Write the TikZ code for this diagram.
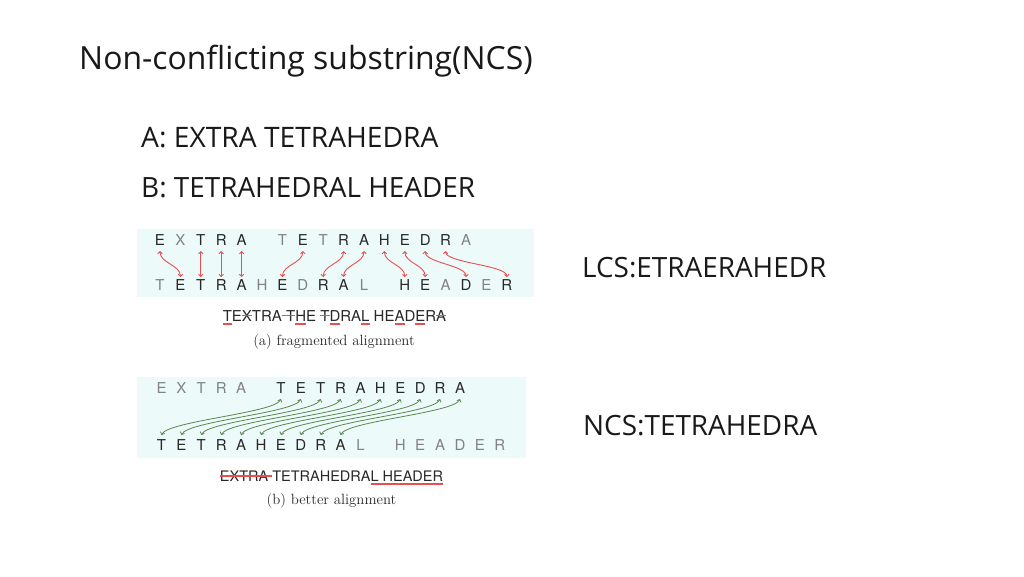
\documentclass[tikz,border=0pt]{standalone}
\usepackage{fontspec}
\usetikzlibrary{arrows.meta}

\newfontfamily\slidefont{Open Sans}
\newfontfamily\heros{TeX Gyre Heros}

\definecolor{panel}{RGB}{237,250,250}
\definecolor{dk}{RGB}{40,40,40}
\definecolor{lt}{RGB}{130,130,130}
\definecolor{lcsred}{RGB}{232,80,80}
\definecolor{ncsgreen}{RGB}{90,135,80}

\newsavebox\markbox
\newcommand\delmark[1]{\sbox\markbox{#1}\usebox\markbox\llap{\color{lcsred}\rule[0.31em]{\wd\markbox}{1.8pt}}}
\newcommand\insmark[1]{\sbox\markbox{#1}\usebox\markbox\llap{\color{lcsred}\rule[-3.6pt]{\wd\markbox}{1.7pt}}}

\begin{document}
\begin{tikzpicture}[x=1pt, y=-1pt, line cap=round, line join=round,
    slide/.style={anchor=base west, inner sep=0pt, text=black!90},
    letter/.style={anchor=base, inner sep=0pt, font=\heros\fontsize{15}{15}\selectfont},
    rowa/.style={letter, outer ysep=6pt},
    rowb/.style={letter, outer ysep=2pt},
    edit/.style={anchor=base, inner sep=0pt, text=dk, font=\heros\fontsize{15}{16}\selectfont},
    caption/.style={anchor=base, inner sep=0pt, text=dk, font=\fontsize{14.8}{16}\selectfont},
    lcsarrow/.style={draw=lcsred, line width=0.9pt, >={Straight Barb[length=2.2pt,width=4.5pt]}, <->},
    ncsarrow/.style={draw=ncsgreen, line width=0.8pt, >={Straight Barb[length=2.2pt,width=4.5pt]}, <->}]

    \useasboundingbox (0,0) rectangle (1024,576);
    \fill[white] (0,0) rectangle (1024,576);

    \node[slide, font=\slidefont\fontsize{31.9}{36}\selectfont] (title) at (79,69) {Non-conflicting substring(NCS)};
    \node[slide, font=\slidefont\fontsize{28.2}{32}\selectfont] (seqa) at (141,147) {A: EXTRA TETRAHEDRA};
    \node[slide, font=\slidefont\fontsize{27.9}{32}\selectfont] (seqb) at (141,197) {B: TETRAHEDRAL HEADER};
    \node[slide, font=\slidefont\fontsize{27.9}{32}\selectfont] (lcs) at (582,277) {LCS:ETRAERAHEDR};
    \node[slide, font=\slidefont\fontsize{27.9}{32}\selectfont] (ncs) at (583,435) {NCS:TETRAHEDRA};

    \fill[panel] (137,229) rectangle (534,297);
    \fill[panel] (137,377) rectangle (526,458);

    \foreach \ch/\col [count=\i from 0] in {E/dk,X/lt,T/dk,R/dk,A/dk,{}/lt,T/lt,E/dk,T/lt,R/dk,A/dk,H/dk,E/dk,D/dk,R/dk,A/lt}
        \node[rowa, text=\col] (fa\i) at ({160+20.4*\i},245) {\ch};
    \foreach \ch/\col [count=\i from 0] in {T/lt,E/dk,T/dk,R/dk,A/dk,H/lt,E/dk,D/lt,R/dk,A/dk,L/lt,{}/lt,H/dk,E/dk,A/lt,D/dk,E/lt,R/dk}
        \node[rowb, text=\col] (fb\i) at ({160+20.4*\i},290) {\ch};

    \draw[lcsarrow] (fa0.south) .. controls +(0,12) and +(0,-12) .. (fb1.north);
    \draw[lcsarrow] (fa2.south) -- (fb2.north);
    \draw[lcsarrow] (fa3.south) -- (fb3.north);
    \draw[lcsarrow] (fa4.south) -- (fb4.north);
    \draw[lcsarrow] (fa7.south) .. controls +(0,12) and +(0,-12) .. (fb6.north);
    \draw[lcsarrow] (fa9.south) .. controls +(0,12) and +(0,-12) .. (fb8.north);
    \draw[lcsarrow] (fa10.south) .. controls +(0,12) and +(0,-12) .. (fb9.north);
    \draw[lcsarrow] (fa11.south) .. controls +(0,12) and +(0,-12) .. (fb12.north);
    \draw[lcsarrow] (fa12.south) .. controls +(0,12) and +(0,-12) .. (fb13.north);
    \draw[lcsarrow] (fa13.south) .. controls +(0,12) and +(0,-12) .. (fb15.north);
    \draw[lcsarrow] (fa14.south) .. controls +(0,12) and +(0,-12) .. (fb17.north);

    \node[edit] (edita) at (334.5,321) {\insmark{T}E\delmark{X}TRA\delmark{ T}\insmark{H}E \delmark{T}\insmark{D}RA\insmark{L} HE\insmark{A}D\insmark{E}R\delmark{A}};
    \node[caption] (capa) at (334,345) {(a) fragmented alignment};

    \foreach \ch/\col [count=\i from 0] in {E/lt,X/lt,T/lt,R/lt,A/lt,{}/lt,T/dk,E/dk,T/dk,R/dk,A/dk,H/dk,E/dk,D/dk,R/dk,A/dk}
        \node[letter, outer ysep=6pt, text=\col] (ba\i) at ({161.5+19.9*\i},393) {\ch};
    \foreach \ch/\col [count=\i from 0] in {T/dk,E/dk,T/dk,R/dk,A/dk,H/dk,E/dk,D/dk,R/dk,A/dk,L/lt,{}/lt,H/lt,E/lt,A/lt,D/lt,E/lt,R/lt}
        \node[letter, outer ysep=4pt, text=\col] (bb\i) at ({161.5+19.9*\i},450) {\ch};

    \foreach \i in {0,...,9}
        \draw[ncsarrow] (ba\the\numexpr\i+6\relax.south) .. controls +(-6,14) and +(6,-14) .. (bb\i.north);

    \node[edit, font=\heros\fontsize{14.5}{16}\selectfont] (editb) at (331.5,481) {\delmark{EXTRA }TETRAHEDRA\insmark{L HEADER}};
    \node[caption] (capb) at (331.5,504) {(b) better alignment};

\end{tikzpicture}
\end{document}
